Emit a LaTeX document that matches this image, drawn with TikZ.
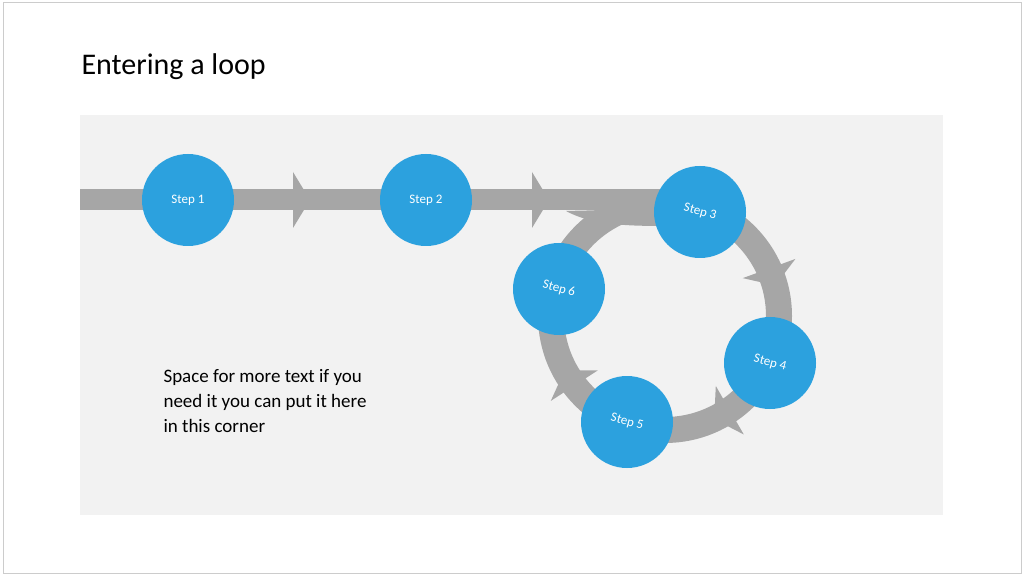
\documentclass[tikz,border=0pt]{standalone}
\usepackage{fontspec}
\setmainfont{Carlito}
\definecolor{stepblue}{HTML}{2CA1DE}
\definecolor{flowgray}{HTML}{A6A6A6}
\definecolor{panelgray}{HTML}{F2F2F2}
\tikzset{
  stepnode/.style={circle, fill=stepblue, minimum size=92pt, inner sep=0pt,
               text=white, font=\fontsize{13}{15}\selectfont},
  flow/.style={draw=flowgray, line width=21pt},
  ring/.style={draw=flowgray, line width=26pt},
  head/.style={fill=flowgray}
}
\begin{document}
\begin{tikzpicture}[x=1pt, y=1pt]
    \useasboundingbox (0,0) rectangle (1024,576);
    \draw [gray!40, line width=1pt] (3,3) rectangle (1021,573);
    \fill [panelgray] (80,61) rectangle (943,461);
    \node [anchor=base west, font=\fontsize{30}{36}\selectfont] (title) at (78,501) {Entering a loop};
    % the way in
    \coordinate (start) at (80,376);
    \coordinate (join) at (665,376);
    \draw [flow] (start) -- (join);
    \fill [flowgray] (566,365) .. controls (600,366) and (630,366) .. (665,366) -- (665,350) .. controls (620,350) and (590,352) .. (566,365);
    \fill [head] (293,404) -- (310,376) -- (293,348) -- cycle;
    \fill [head] (532,404) -- (549,376) -- (532,348) -- cycle;
    % the loop
    \draw [ring] (665,260) circle [radius=114];
    \foreach \a in {20,-60,213} {
      \begin{scope}[shift={(665,260)}, rotate=\a]
        \fill [head] (86,9) -- (142,9) -- (114,-9) -- cycle;
      \end{scope}
    }
    \node [stepnode] (sone) at (188,376) {Step 1};
    \node [stepnode] (stwo) at (426,376) {Step 2};
    \node [stepnode] (sthree) at (700,364) {\rotatebox{-15}{Step 3}};
    \node [stepnode] (sfour) at (770,213) {\rotatebox{-15}{Step 4}};
    \node [stepnode] (sfive) at (627,154) {\rotatebox{-15}{Step 5}};
    \node [stepnode] (ssix) at (559,287) {\rotatebox{-15}{Step 6}};
    \node [anchor=north west, align=left, font=\fontsize{19}{25}\selectfont] (note) at (160,210)
      {Space for more text if you\\need it you can put it here\\in this corner};
\end{tikzpicture}
\end{document}
